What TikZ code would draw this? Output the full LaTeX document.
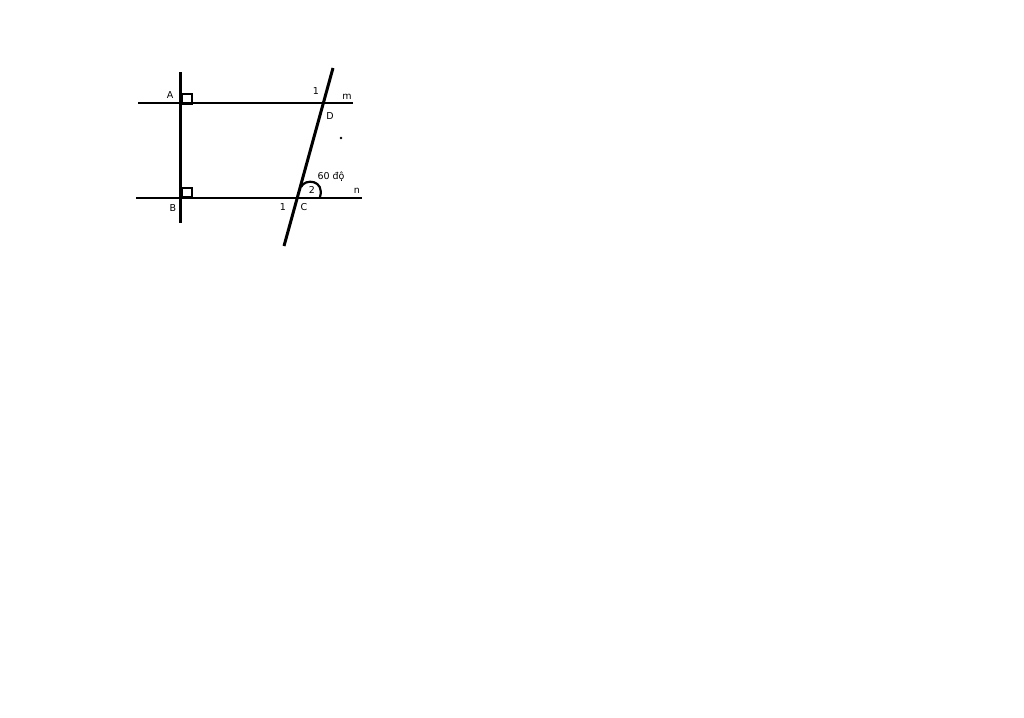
\documentclass[tikz,border=0pt]{standalone}
\usepackage{fontspec}
\setmainfont{DejaVu Sans}
\begin{document}
\begin{tikzpicture}[x=1pt,y=-1pt,
  hl/.style={line width=2.3pt},
  vl/.style={line width=3pt},
  sq/.style={line width=2.2pt},
  lbl/.style={font=\fontsize{9.5}{11}\selectfont,inner sep=0pt}]
\useasboundingbox (0,0) rectangle (1024,717);
% endpoints
\coordinate (m1) at (138,103);
\coordinate (m2) at (353,103);
\coordinate (n1) at (136,198);
\coordinate (n2) at (362,198);
\coordinate (v1) at (180,72);
\coordinate (v2) at (180,223);
\coordinate (t1) at (333,68);
\coordinate (t2) at (284,246);
\draw[hl] (m1) -- (m2);
\draw[hl] (n1) -- (n2);
\draw[vl] (v1) -- (v2);
\draw[vl] (t1) -- (t2);
% right angle marks
\draw[sq] (182,94) rectangle (192,104);
\draw[sq] (182,188) rectangle (192,197);
% angle mark
\draw[sq] (301,187) .. controls (305,178) and (325,180) .. (320,197);
% labels
\node[lbl] (A) at (170,95) {A};
\node[lbl] (B) at (173,208) {B};
\node[lbl] (one1) at (316,91) {1};
\node[lbl] (m) at (347,97) {m};
\node[lbl] (D) at (330,116) {D};
\fill (341,138) circle (1.4pt);
\node[lbl] (deg) at (331,177) {60 độ};
\node[lbl] (two) at (312,190) {2};
\node[lbl] (n) at (357,191) {n};
\node[lbl] (one2) at (283,207) {1};
\node[lbl] (C) at (304,207) {C};
\end{tikzpicture}
\end{document}
